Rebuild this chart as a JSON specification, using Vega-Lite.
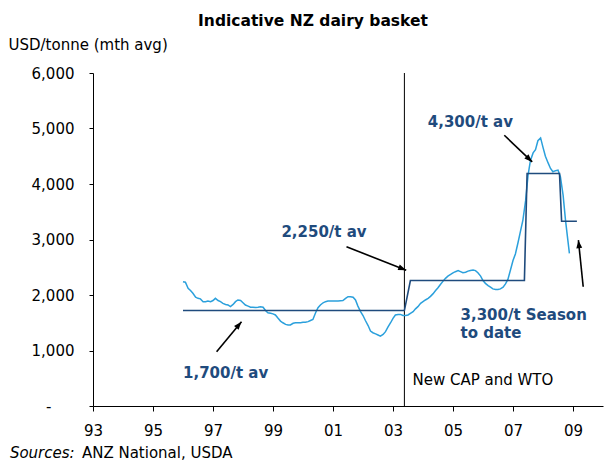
{
  "$schema": "https://vega.github.io/schema/vega-lite/v6.json",
  "width": 510,
  "height": 333,
  "autosize": {"type": "none"},
  "padding": {"left": 93, "top": 73, "right": 2, "bottom": 56},
  "background": "white",
  "config": {"view": {"stroke": null}, "font": "DejaVu Sans"},
  "title": {
    "text": "Indicative NZ dairy basket",
    "font": "DejaVu Sans",
    "fontSize": 15.5,
    "fontWeight": "bold",
    "color": "black",
    "anchor": "middle",
    "frame": "group",
    "dx": -35,
    "offset": 8
  },
  "datasets": {
    "monthly": [
      {"year": 1996.00, "value": 2240}, {"year": 1996.08, "value": 2230}, {"year": 1996.17, "value": 2120}, {"year": 1996.25, "value": 2080},
      {"year": 1996.33, "value": 2030}, {"year": 1996.42, "value": 1960}, {"year": 1996.50, "value": 1940}, {"year": 1996.58, "value": 1930},
      {"year": 1996.67, "value": 1880}, {"year": 1996.75, "value": 1880}, {"year": 1996.83, "value": 1890}, {"year": 1996.92, "value": 1880},
      {"year": 1997.00, "value": 1900}, {"year": 1997.08, "value": 1940}, {"year": 1997.17, "value": 1900}, {"year": 1997.25, "value": 1880},
      {"year": 1997.33, "value": 1850}, {"year": 1997.42, "value": 1830}, {"year": 1997.50, "value": 1820}, {"year": 1997.58, "value": 1790},
      {"year": 1997.67, "value": 1830}, {"year": 1997.75, "value": 1880}, {"year": 1997.83, "value": 1910}, {"year": 1997.92, "value": 1900},
      {"year": 1998.00, "value": 1860}, {"year": 1998.08, "value": 1820}, {"year": 1998.17, "value": 1800}, {"year": 1998.25, "value": 1780},
      {"year": 1998.33, "value": 1780}, {"year": 1998.42, "value": 1775}, {"year": 1998.50, "value": 1780}, {"year": 1998.58, "value": 1790},
      {"year": 1998.67, "value": 1780}, {"year": 1998.75, "value": 1720}, {"year": 1998.83, "value": 1680}, {"year": 1998.92, "value": 1670},
      {"year": 1999.00, "value": 1660}, {"year": 1999.08, "value": 1640}, {"year": 1999.17, "value": 1580}, {"year": 1999.25, "value": 1530},
      {"year": 1999.33, "value": 1500}, {"year": 1999.42, "value": 1470}, {"year": 1999.50, "value": 1460}, {"year": 1999.58, "value": 1460},
      {"year": 1999.67, "value": 1490}, {"year": 1999.75, "value": 1500}, {"year": 1999.83, "value": 1500}, {"year": 1999.92, "value": 1500},
      {"year": 2000.00, "value": 1510}, {"year": 2000.08, "value": 1510}, {"year": 2000.17, "value": 1520}, {"year": 2000.25, "value": 1540},
      {"year": 2000.33, "value": 1560}, {"year": 2000.42, "value": 1680}, {"year": 2000.50, "value": 1770}, {"year": 2000.58, "value": 1820},
      {"year": 2000.67, "value": 1860}, {"year": 2000.75, "value": 1880}, {"year": 2000.83, "value": 1890}, {"year": 2000.92, "value": 1890},
      {"year": 2001.00, "value": 1890}, {"year": 2001.08, "value": 1890}, {"year": 2001.17, "value": 1890}, {"year": 2001.25, "value": 1895},
      {"year": 2001.33, "value": 1900}, {"year": 2001.42, "value": 1940}, {"year": 2001.50, "value": 1970}, {"year": 2001.58, "value": 1970},
      {"year": 2001.67, "value": 1960}, {"year": 2001.75, "value": 1910}, {"year": 2001.83, "value": 1800}, {"year": 2001.92, "value": 1700},
      {"year": 2002.00, "value": 1630}, {"year": 2002.08, "value": 1540}, {"year": 2002.17, "value": 1450}, {"year": 2002.25, "value": 1350},
      {"year": 2002.33, "value": 1320}, {"year": 2002.42, "value": 1300}, {"year": 2002.50, "value": 1280}, {"year": 2002.58, "value": 1260},
      {"year": 2002.67, "value": 1290}, {"year": 2002.75, "value": 1340}, {"year": 2002.83, "value": 1420}, {"year": 2002.92, "value": 1500},
      {"year": 2003.00, "value": 1580}, {"year": 2003.08, "value": 1640}, {"year": 2003.17, "value": 1650}, {"year": 2003.25, "value": 1650},
      {"year": 2003.33, "value": 1630}, {"year": 2003.42, "value": 1630}, {"year": 2003.50, "value": 1640}, {"year": 2003.58, "value": 1670},
      {"year": 2003.67, "value": 1700}, {"year": 2003.75, "value": 1750}, {"year": 2003.83, "value": 1790}, {"year": 2003.92, "value": 1850},
      {"year": 2004.00, "value": 1880}, {"year": 2004.08, "value": 1910}, {"year": 2004.17, "value": 1940}, {"year": 2004.25, "value": 1975},
      {"year": 2004.33, "value": 2020}, {"year": 2004.42, "value": 2080}, {"year": 2004.50, "value": 2130}, {"year": 2004.58, "value": 2190},
      {"year": 2004.67, "value": 2250}, {"year": 2004.75, "value": 2300}, {"year": 2004.83, "value": 2340}, {"year": 2004.92, "value": 2370},
      {"year": 2005.00, "value": 2400}, {"year": 2005.08, "value": 2420}, {"year": 2005.17, "value": 2440}, {"year": 2005.25, "value": 2420},
      {"year": 2005.33, "value": 2400}, {"year": 2005.42, "value": 2410}, {"year": 2005.50, "value": 2430}, {"year": 2005.58, "value": 2440},
      {"year": 2005.67, "value": 2450}, {"year": 2005.75, "value": 2440}, {"year": 2005.83, "value": 2400}, {"year": 2005.92, "value": 2340},
      {"year": 2006.00, "value": 2260}, {"year": 2006.08, "value": 2210}, {"year": 2006.17, "value": 2170}, {"year": 2006.25, "value": 2140},
      {"year": 2006.33, "value": 2110}, {"year": 2006.42, "value": 2100}, {"year": 2006.50, "value": 2100}, {"year": 2006.58, "value": 2110},
      {"year": 2006.67, "value": 2140}, {"year": 2006.75, "value": 2200}, {"year": 2006.83, "value": 2280}, {"year": 2006.92, "value": 2460},
      {"year": 2007.00, "value": 2620}, {"year": 2007.08, "value": 2740}, {"year": 2007.17, "value": 2950}, {"year": 2007.25, "value": 3150},
      {"year": 2007.33, "value": 3350}, {"year": 2007.42, "value": 3700}, {"year": 2007.50, "value": 4150}, {"year": 2007.58, "value": 4420},
      {"year": 2007.67, "value": 4560}, {"year": 2007.75, "value": 4620}, {"year": 2007.83, "value": 4780}, {"year": 2007.92, "value": 4830},
      {"year": 2008.00, "value": 4660}, {"year": 2008.08, "value": 4500}, {"year": 2008.17, "value": 4380}, {"year": 2008.25, "value": 4280},
      {"year": 2008.33, "value": 4220}, {"year": 2008.42, "value": 4240}, {"year": 2008.50, "value": 4250}, {"year": 2008.58, "value": 4130},
      {"year": 2008.67, "value": 3800}, {"year": 2008.75, "value": 3350}, {"year": 2008.83, "value": 2980}, {"year": 2008.88, "value": 2750}
    ],
    "avg": [
      {"year": 1996.00, "value": 1720},
      {"year": 2003.38, "value": 1720},
      {"year": 2003.58, "value": 2260},
      {"year": 2007.38, "value": 2260},
      {"year": 2007.47, "value": 4190},
      {"year": 2008.55, "value": 4190},
      {"year": 2008.62, "value": 3330},
      {"year": 2009.13, "value": 3330}
    ],
    "vline": [
      {"year": 2003.38, "value": 0, "value2": 6000}
    ],
    "arrows": [
      {"id": 1, "year": 1997.95, "value": 1517, "year2": 1997.12, "value2": 977},
      {"id": 2, "year": 2003.44, "value": 2448, "year2": 2001.45, "value2": 2868},
      {"id": 3, "year": 2007.64, "value": 4398, "year2": 2006.71, "value2": 4878},
      {"id": 4, "year": 2009.18, "value": 2988, "year2": 2009.34, "value2": 2148}
    ],
    "notes": [
      {"kind": "avg", "label": "1,700/t av", "year": 1996.00, "value": 594},
      {"kind": "avg", "label": "2,250/t av", "year": 1999.28, "value": 3132},
      {"kind": "avg", "label": "4,300/t av", "year": 2004.16, "value": 5112},
      {"kind": "avg", "label": "3,300/t Season", "year": 2005.25, "value": 1638},
      {"kind": "avg", "label": "to date", "year": 2005.25, "value": 1314},
      {"kind": "note", "label": "New CAP and WTO", "year": 2003.65, "value": 468},
      {"kind": "srci", "label": "Sources:", "year": 1990.23, "value": -846},
      {"kind": "src", "label": "ANZ National, USDA", "year": 1992.63, "value": -846}
    ]
  },
  "encoding": {
    "x": {
      "field": "year",
      "type": "quantitative",
      "scale": {"domain": [1993, 2010], "nice": false, "zero": false},
      "axis": {
        "values": [1993, 1995, 1997, 1999, 2001, 2003, 2005, 2007, 2009],
        "labelExpr": "format(datum.value % 100, '02d')",
        "grid": false,
        "title": null,
        "domainColor": "black",
        "tickColor": "black",
        "tickSize": 5,
        "labelPadding": 12,
        "labelFont": "DejaVu Sans",
        "labelFontSize": 15,
        "labelColor": "black",
        "labelFlush": false
      }
    },
    "y": {
      "field": "value",
      "type": "quantitative",
      "scale": {"domain": [0, 6000], "nice": false},
      "axis": {
        "values": [0, 1000, 2000, 3000, 4000, 5000, 6000],
        "labelExpr": "datum.value == 0 ? '-' : format(datum.value, ',')",
        "grid": false,
        "domainColor": "black",
        "tickColor": "black",
        "tickSize": 4,
        "labelPadding": {"condition": {"test": "datum.value == 0", "value": 38}, "value": 15},
        "labelFont": "DejaVu Sans",
        "labelFontSize": 15,
        "labelColor": "black",
        "title": "USD/tonne (mth avg)",
        "titleAngle": 0,
        "titleAlign": "left",
        "titleBaseline": "middle",
        "titleX": -85,
        "titleY": -29,
        "titleFont": "DejaVu Sans",
        "titleFontSize": 15,
        "titleFontWeight": "normal",
        "titleColor": "black"
      }
    }
  },
  "layer": [
    {
      "data": {"name": "vline"},
      "mark": {"type": "rule", "color": "black", "strokeWidth": 1},
      "encoding": {"y2": {"field": "value2"}}
    },
    {
      "data": {"name": "monthly"},
      "mark": {"type": "line", "color": "#2BA0DC", "strokeWidth": 1.5},
      "encoding": {}
    },
    {
      "data": {"name": "avg"},
      "mark": {"type": "line", "color": "#1F4B7D", "strokeWidth": 1.6},
      "encoding": {}
    },
    {
      "data": {"name": "arrows"},
      "mark": {"type": "rule", "color": "black", "strokeWidth": 1.6},
      "encoding": {"x2": {"field": "year2"}, "y2": {"field": "value2"}}
    },
    {
      "data": {"name": "arrows"},
      "transform": [{"filter": "datum.id == 1"}],
      "mark": {"type": "point", "shape": "M0,0L-0.42,1.15L0.42,1.15Z", "size": 196, "filled": true, "color": "black", "opacity": 1, "angle": 39.8},
      "encoding": {}
    },
    {
      "data": {"name": "arrows"},
      "transform": [{"filter": "datum.id == 2"}],
      "mark": {"type": "point", "shape": "M0,0L-0.42,1.15L0.42,1.15Z", "size": 196, "filled": true, "color": "black", "opacity": 1, "angle": 111.2},
      "encoding": {}
    },
    {
      "data": {"name": "arrows"},
      "transform": [{"filter": "datum.id == 3"}],
      "mark": {"type": "point", "shape": "M0,0L-0.42,1.15L0.42,1.15Z", "size": 196, "filled": true, "color": "black", "opacity": 1, "angle": 133.9},
      "encoding": {}
    },
    {
      "data": {"name": "arrows"},
      "transform": [{"filter": "datum.id == 4"}],
      "mark": {"type": "point", "shape": "M0,0L-0.42,1.15L0.42,1.15Z", "size": 196, "filled": true, "color": "black", "opacity": 1, "angle": 353.9},
      "encoding": {}
    },
    {
      "data": {"name": "notes"},
      "transform": [{"filter": "datum.kind == 'avg'"}],
      "mark": {"type": "text", "align": "left", "baseline": "middle", "font": "DejaVu Sans", "fontSize": 15, "fontWeight": "bold", "color": "#1F4B7D"},
      "encoding": {"text": {"field": "label"}}
    },
    {
      "data": {"name": "notes"},
      "transform": [{"filter": "datum.kind == 'note'"}],
      "mark": {"type": "text", "align": "left", "baseline": "middle", "font": "DejaVu Sans", "fontSize": 15, "color": "black"},
      "encoding": {"text": {"field": "label"}}
    },
    {
      "data": {"name": "notes"},
      "transform": [{"filter": "datum.kind == 'srci'"}],
      "mark": {"type": "text", "align": "left", "baseline": "middle", "font": "DejaVu Sans", "fontSize": 15, "fontStyle": "italic", "color": "black"},
      "encoding": {"text": {"field": "label"}}
    },
    {
      "data": {"name": "notes"},
      "transform": [{"filter": "datum.kind == 'src'"}],
      "mark": {"type": "text", "align": "left", "baseline": "middle", "font": "DejaVu Sans", "fontSize": 15, "color": "black"},
      "encoding": {"text": {"field": "label"}}
    }
  ]
}
